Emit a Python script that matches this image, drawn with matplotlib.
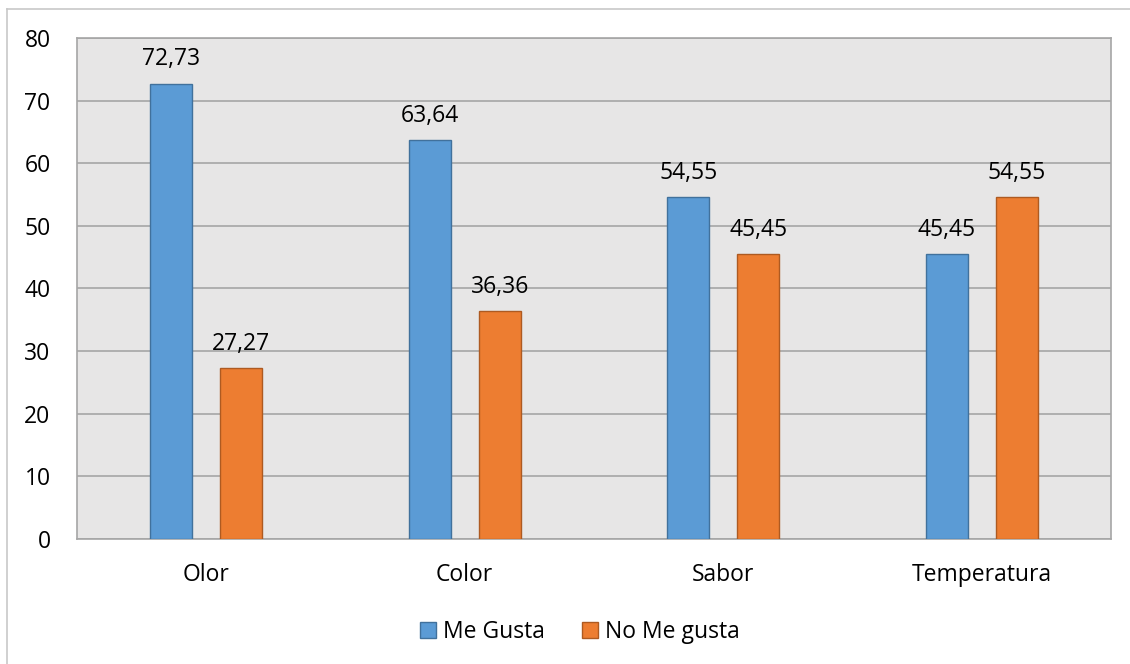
import numpy as np
import matplotlib.pyplot as plt
import matplotlib.lines

categories = ['Olor', 'Color', 'Sabor', 'Temperatura']
me_gusta = [72.73, 63.64, 54.55, 45.45]
no_me_gusta = [27.27, 36.36, 45.45, 54.55]
series_names = ['Me Gusta', 'No Me gusta']

plt.rcParams['font.family'] = ['Open Sans', 'DejaVu Sans']
FS = 16.5

fig = plt.figure(figsize=(11.3, 6.64), dpi=100)
ax = fig.add_axes([0.0681, 0.1883, 0.9151, 0.7545])

# outer chart border (only left and top are inside the picture)
for xs, ys in (([7/1130, 7/1130], [0, 1 - 9/664]), ([7/1130, 1], [1 - 9/664, 1 - 9/664])):
    fig.add_artist(matplotlib.lines.Line2D(xs, ys, transform=fig.transFigure,
                                           color='#c8c8c8', linewidth=1.2))

ax.set_facecolor('#e7e6e6')
x = np.arange(len(categories))
width = 0.1625
off = 0.135
blue = ax.bar(x - off, me_gusta, width, color='#5b9bd5', edgecolor='#41719c',
              linewidth=1, label=series_names[0], zorder=3)
orange = ax.bar(x + off, no_me_gusta, width, color='#ed7d31', edgecolor='#ae5a21',
                linewidth=1, label=series_names[1], zorder=3)

for bars, vals in ((blue, me_gusta), (orange, no_me_gusta)):
    for b, v in zip(bars, vals):
        ax.annotate(f'{v:.2f}'.replace('.', ','), (b.get_x() + b.get_width()/2, v),
                    xytext=(0, 13), textcoords='offset points', ha='center',
                    va='baseline', fontsize=FS)

ax.set_xlim(-0.5, len(categories) - 0.5)
ax.set_ylim(0, 80)
ax.set_yticks(range(0, 81, 10))
ax.set_xticks(x)
ax.set_xticklabels(categories)
ax.grid(axis='y', color='#a6a6a6', linewidth=1.2, zorder=0)
ax.set_axisbelow(True)
ax.tick_params(length=0, labelsize=FS)
ax.tick_params(axis='x', pad=17)
ax.tick_params(axis='y', pad=19)
for side in ['left', 'bottom', 'top', 'right']:
    ax.spines[side].set_color('#a6a6a6')
    ax.spines[side].set_linewidth(1.2)

fig.legend(handles=[blue, orange], loc='center', bbox_to_anchor=(580/1130, 1 - 632/664),
           ncol=2, frameon=False, fontsize=FS, handlelength=0.7, handleheight=0.7,
           handletextpad=0.3, columnspacing=1.6)

fig.savefig('out.png', dpi=100)
